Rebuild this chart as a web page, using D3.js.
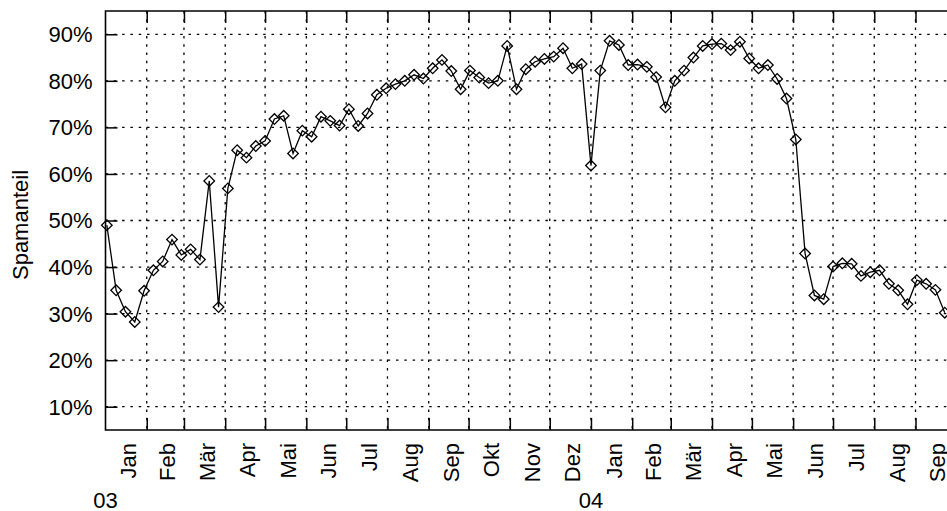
<!DOCTYPE html>
<html>
<head>
<meta charset="utf-8">
<script src="https://cdn.jsdelivr.net/npm/d3@7"></script>
<style>
  body { margin: 0; background: #fff; }
  text { font-family: "Liberation Sans", Arial, Helvetica, sans-serif; fill: #000; }
</style>
</head>
<body>
<div id="chart"></div>
<script>
// weekly spam share, first week starts 2 Jan 2003
const firstWeek = new Date(2003, 0, 2);
const spamShare = [
  49.0, 35.0, 30.4, 28.2, 34.9, 39.3, 41.2, 45.9, 42.6, 43.8,
  41.6, 58.5, 31.4, 56.9, 65.1, 63.5, 66.0, 67.1, 71.8, 72.5,
  64.4, 69.3, 68.0, 72.3, 71.4, 70.4, 73.9, 70.3, 73.0, 77.0,
  78.4, 79.3, 80.0, 81.3, 80.5, 82.7, 84.5, 82.1, 78.2, 82.2,
  80.7, 79.5, 80.0, 87.5, 78.2, 82.5, 84.1, 84.7, 85.2, 87.0,
  82.7, 83.6, 61.8, 82.2, 88.6, 87.7, 83.4, 83.5, 83.0, 80.8,
  74.3, 80.0, 82.2, 85.0, 87.5, 87.9, 88.0, 86.6, 88.4, 84.8,
  82.7, 83.4, 80.4, 76.2, 67.4, 42.9, 33.9, 33.1, 40.1, 40.8,
  40.7, 38.1, 38.9, 39.3, 36.4, 35.0, 32.0, 37.2, 36.4, 35.1,
  30.2
];
const monthNames = ["Jan", "Feb", "Mär", "Apr", "Mai", "Jun", "Jul", "Aug", "Sep", "Okt", "Nov", "Dez"];
const yearLabels = ["03", "04"];
const yTicks = [10, 20, 30, 40, 50, 60, 70, 80, 90];

let width = 947;
let height = 511;
let plotLeft = 105.5, plotTop = 11, plotBottom = 430;

let svg = d3.select("#chart").append("svg").attr("width", width).attr("height", height);

let x = d3.scaleTime()
  .domain([new Date(2003, 0, 1), new Date(2004, 9, 1)])
  .range([plotLeft, 955.4]);
let y = d3.scaleLinear().domain([5, 95]).range([plotBottom, plotTop]);

let data = spamShare.map((v, i) => ({date: d3.timeDay.offset(firstWeek, 7 * i), value: v}));
let monthStarts = d3.timeMonth.range(new Date(2003, 1, 1), new Date(2004, 9, 1));
let allMonths = d3.timeMonth.range(new Date(2003, 0, 1), new Date(2004, 9, 1));

// dotted grid
let grid = svg.append("g").attr("stroke", "#000").attr("stroke-width", 1.3).attr("stroke-dasharray", "2.5,5.8");
grid.selectAll("line.h").data(yTicks).join("line")
  .attr("x1", plotLeft).attr("x2", width)
  .attr("y1", d => y(d)).attr("y2", d => y(d));
grid.selectAll("line.v").data(monthStarts).join("line")
  .attr("x1", d => x(d)).attr("x2", d => x(d))
  .attr("y1", plotTop).attr("y2", plotBottom);

// axes: inward ticks
let yAxis = d3.axisRight(y).tickValues(yTicks).tickSize(12).tickFormat("");
svg.append("g").attr("transform", `translate(${plotLeft},0)`).call(yAxis)
  .call(g => g.select(".domain").remove())
  .selectAll("line").attr("stroke-width", 1.5);

let xAxisB = d3.axisTop(x).tickValues(monthStarts).tickSize(12).tickFormat("");
svg.append("g").attr("transform", `translate(0,${plotBottom})`).call(xAxisB)
  .call(g => g.select(".domain").remove())
  .selectAll("line").attr("stroke-width", 1.5);

let xAxisT = d3.axisBottom(x).tickValues(monthStarts).tickSize(12).tickFormat("");
svg.append("g").attr("transform", `translate(0,${plotTop})`).call(xAxisT)
  .call(g => g.select(".domain").remove())
  .selectAll("line").attr("stroke-width", 1.5);

// frame
svg.append("path")
  .attr("d", `M${width},${plotTop}H${plotLeft}V${plotBottom}H${width}`)
  .attr("fill", "none").attr("stroke", "#000").attr("stroke-width", 1.6);

// y tick labels
svg.append("g").selectAll("text").data(yTicks).join("text")
  .attr("x", 92.5).attr("y", d => y(d)).attr("dy", "0.36em")
  .attr("text-anchor", "end").style("font-size", "22px")
  .text(d => d + "%");

// month labels, rotated, centred in each month
svg.append("g").selectAll("text").data(allMonths).join("text")
  .attr("transform", d => {
    let mid = (x(d) + x(d3.timeMonth.offset(d, 1))) / 2 + 2;
    return `translate(${mid},443) rotate(-90)`;
  })
  .attr("dy", "0.36em").attr("text-anchor", "end").style("font-size", "22px")
  .text(d => monthNames[d.getMonth()]);

// year labels at January
svg.append("g").selectAll("text").data(yearLabels).join("text")
  .attr("x", (d, i) => x(new Date(2003 + i, 0, 1)))
  .attr("y", 508).attr("text-anchor", "middle").style("font-size", "22px")
  .text(d => d);

// y title
svg.append("text")
  .attr("transform", "translate(28,225) rotate(-90)")
  .attr("text-anchor", "middle").style("font-size", "22px")
  .text("Spamanteil");

// series
let line = d3.line().x(d => x(d.date)).y(d => y(d.value));
svg.append("path").datum(data)
  .attr("d", line).attr("fill", "none").attr("stroke", "#000").attr("stroke-width", 1.3);

let diamond = d3.symbol().type(d3.symbolSquare).size(56);
svg.append("g").selectAll("path").data(data).join("path")
  .attr("transform", d => `translate(${x(d.date)},${y(d.value)}) rotate(45)`)
  .attr("d", diamond)
  .attr("fill", "none").attr("stroke", "#000").attr("stroke-width", 1.3);
</script>
</body>
</html>
